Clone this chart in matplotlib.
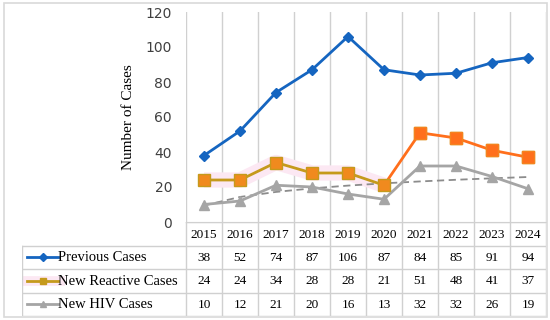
import matplotlib
matplotlib.use("Agg")
from matplotlib import pyplot as plt
import numpy as np

# Data
years = ["2015", "2016", "2017", "2018", "2019", "2020", "2021", "2022", "2023", "2024"]
previous = [38, 52, 74, 87, 106, 87, 84, 85, 91, 94]
reactive = [24, 24, 34, 28, 28, 21, 51, 48, 41, 37]
hiv = [10, 12, 21, 20, 16, 13, 32, 32, 26, 19]
series_names = ["Previous Cases", "New Reactive Cases", "New HIV Cases"]

BLUE = "#1565C0"
ORANGE = "#FF6F1C"
GOLD = "#C59A1C"
GREY = "#A5A5A5"
PINK = "#FCE8F3"
SERIF = "Liberation Serif"

W, H = 550, 320


def fx(px):
    return px / W


def fy(py):
    return 1 - py / H


def main():
    fig = plt.figure(figsize=(5.5, 3.2), dpi=100)

    # outer chart border
    fig.add_artist(plt.Rectangle((fx(4), fy(317)), fx(543), fy(3) - fy(317),
                                 transform=fig.transFigure, fill=False, ec="#D9D9D9", lw=1.2))

    # main plot area
    left, right, top, bottom = 186, 546, 12, 222
    ax = fig.add_axes([fx(left), fy(bottom), fx(right - left), fy(top) - fy(bottom)])
    n = len(years)
    x = np.arange(n) + 0.5
    ax.set_xlim(0, n)
    ax.set_ylim(0, 120)
    for i in range(n + 1):
        ax.axvline(i, color="#D0D0D0", lw=1, zorder=0)
    for s in ["top", "right", "left"]:
        ax.spines[s].set_visible(False)
    ax.spines["bottom"].set_color("#BFBFBF")
    ax.set_xticks([])
    ax.set_yticks(range(0, 121, 20))
    ax.tick_params(axis="y", length=0, labelsize=10, pad=10, colors="#404040")
    ax.set_ylabel("Number of Cases", family=SERIF, fontsize=11, labelpad=8)

    # log trendline for HIV cases
    xi = np.arange(1, n + 1)
    b, a = np.polyfit(np.log(xi), hiv, 1)
    ax.plot(x, a + b * np.log(xi), ls=(0, (4, 2.5)), color="#8C8C8C", lw=1.3, zorder=2)

    ax.plot(x, previous, color=BLUE, lw=2, marker="D", ms=5, zorder=4)

    # reactive: highlighted part then orange part
    ax.plot(x[:6], reactive[:6], color=PINK, lw=11, solid_capstyle="butt", zorder=1)
    ax.plot(x[5:], reactive[5:], color=ORANGE, lw=2, zorder=3)
    ax.plot(x[:6], reactive[:6], color=GOLD, lw=2, zorder=3)
    ax.plot(x, reactive, ls="none", marker="s", ms=8, mfc="#F08A1E", mec=GOLD, zorder=4)
    ax.plot(x[6:], reactive[6:], ls="none", marker="s", ms=8, mfc=ORANGE, mec="#F5821F", zorder=4)

    ax.plot(x, hiv, color=GREY, lw=2, marker="^", ms=7, zorder=3)

    # data table
    label_left = 22
    tleft = (label_left - left) / 36.0
    tab = fig.add_axes([fx(label_left), fy(316), fx(right - label_left), fy(222) - fy(316)])
    tab.set_xlim(tleft, n)
    tab.set_ylim(4, 0)
    tab.axis("off")
    lc = "#D0D0D0"
    tab.plot([0, n], [0, 0], color=lc, lw=1)
    for r in [1, 2, 3, 4]:
        tab.plot([tleft, n], [r, r], color=lc, lw=1)
    for i in range(n + 1):
        tab.plot([i, i], [0, 4], color=lc, lw=1)
    tab.plot([tleft, tleft], [1, 4], color=lc, lw=1)

    for i, yr in enumerate(years):
        tab.text(i + 0.5, 0.55, yr, ha="center", va="center", family=SERIF, fontsize=9.5)
    rows = [previous, reactive, hiv]
    colors = [BLUE, GOLD, GREY]
    markers = ["D", "s", "^"]
    for r, (name, vals) in enumerate(zip(series_names, rows)):
        yc = r + 1.5
        if r == 1:
            tab.plot([tleft + 0.08, tleft + 1.06], [yc, yc], color=PINK, lw=7, zorder=1)
        tab.plot([tleft + 0.14, tleft + 1.0], [yc, yc], color=colors[r], lw=2, zorder=2)
        tab.plot([tleft + 0.57], [yc], marker=markers[r], color=colors[r], ms=4, zorder=3)
        tab.text(tleft + 1.0, yc + 0.02, name, ha="left", va="center", family=SERIF, fontsize=10.5)
        for i, v in enumerate(vals):
            tab.text(i + 0.5, yc + 0.02, str(v), ha="center", va="center", family=SERIF, fontsize=9.5)

    fig.savefig("out.png", dpi=100)


if __name__ == '__main__':
    main()
